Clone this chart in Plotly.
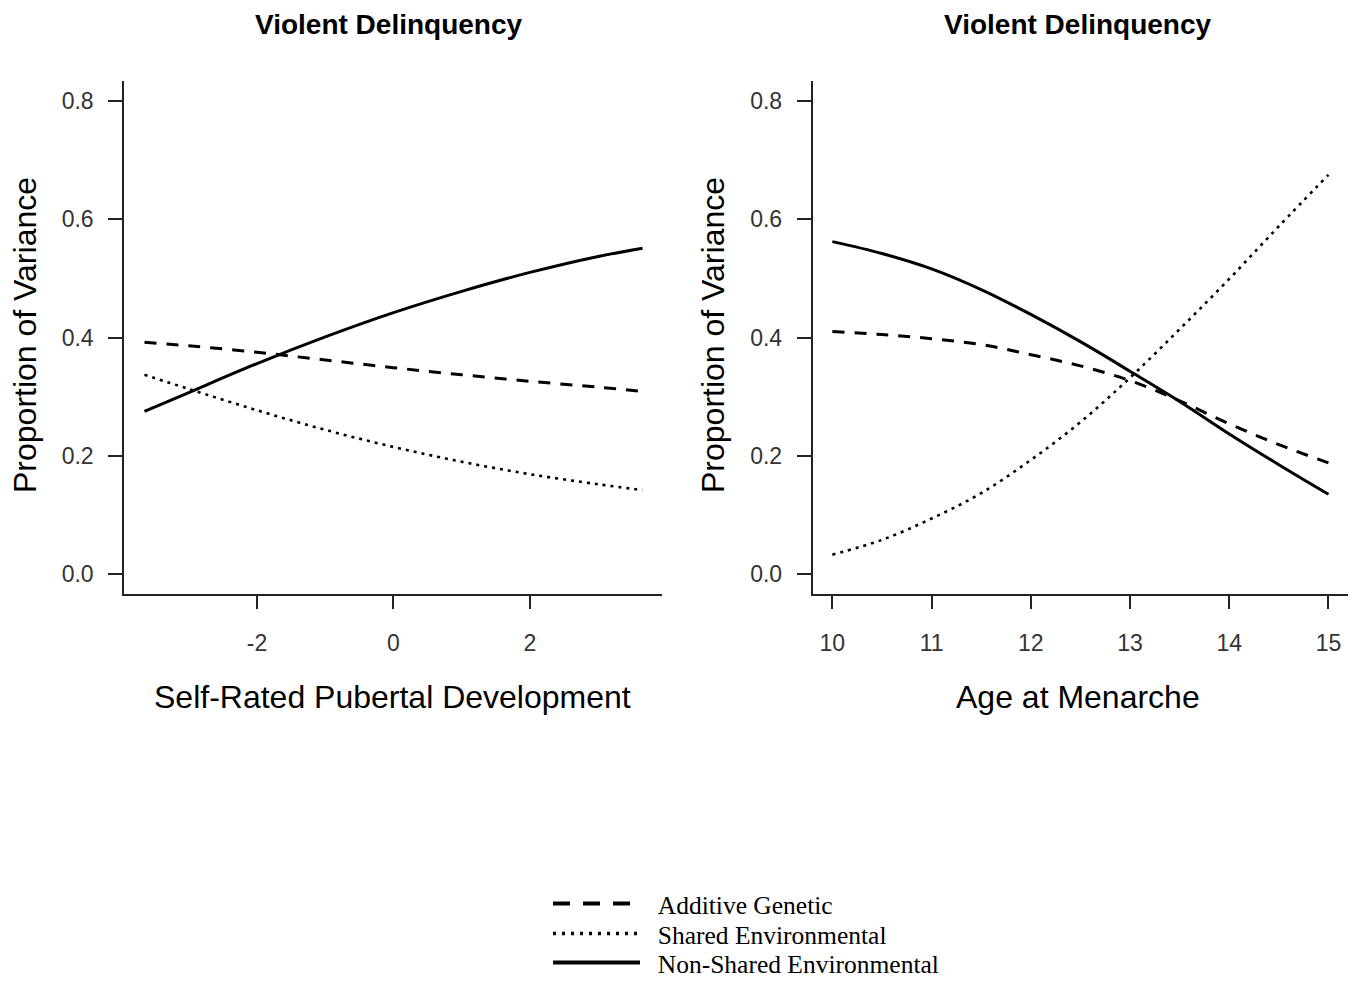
import plotly.graph_objects as go

# ---------------- data ----------------
pub_x = [-3.65, -3.0, -2.0, -1.0, 0.0, 1.0, 2.0, 3.0, 3.65]
pub_additive = [0.392, 0.386, 0.375, 0.362, 0.349, 0.337, 0.326, 0.316, 0.309]
pub_shared = [0.337, 0.313, 0.277, 0.244, 0.215, 0.190, 0.169, 0.152, 0.142]
pub_nonshared = [0.275, 0.307, 0.356, 0.401, 0.442, 0.478, 0.510, 0.537, 0.551]

men_x = [10, 10.5, 11, 11.5, 12, 12.5, 13, 13.5, 14, 14.5, 15]
men_additive = [0.410, 0.405, 0.398, 0.388, 0.371, 0.352, 0.327, 0.293, 0.254, 0.219, 0.188]
men_shared = [0.033, 0.058, 0.094, 0.137, 0.193, 0.257, 0.332, 0.414, 0.499, 0.588, 0.675]
men_nonshared = [0.562, 0.542, 0.516, 0.481, 0.439, 0.393, 0.343, 0.292, 0.237, 0.185, 0.135]

series_names = ["Additive Genetic", "Shared Environmental", "Non-Shared Environmental"]
panel_title = "Violent Delinquency"
y_title = "Proportion of Variance"
x_titles = ["Self-Rated Pubertal Development", "Age at Menarche"]
y_ticks = [0.0, 0.2, 0.4, 0.6, 0.8]
pub_ticks = [-2, 0, 2]
pub_ticktext = ["-2", "0", "2"]
men_ticks = [10, 11, 12, 13, 14, 15]

# ---------------- figure ----------------
OFF = 8  # page body margin
W, H = 1357 - OFF, 981 - OFF
px2fx = lambda p: (p - OFF) / W
py2fy = lambda p: (H - (p - OFF)) / H

styles = [
    dict(color="black", width=3, dash="12px,10px"),
    dict(color="black", width=2.6, dash="3px,5px"),
    dict(color="black", width=3, dash="solid"),
]
legend_styles = [
    dict(color="black", width=4, dash="17px,13px"),
    dict(color="black", width=3.5, dash="3px,6px"),
    dict(color="black", width=4, dash="solid"),
]
legend_ids = ["legend", "legend2", "legend3"]
legend_rows = [904, 934, 963]

fig = go.Figure()
left_series = [pub_additive, pub_shared, pub_nonshared]
right_series = [men_additive, men_shared, men_nonshared]
for i, (name, ys) in enumerate(zip(series_names, left_series)):
    fig.add_trace(go.Scatter(x=pub_x, y=ys, mode="lines", name=name,
                             line=dict(shape="spline", smoothing=1.0, **styles[i]),
                             xaxis="x", yaxis="y", showlegend=False))
for i, (name, ys) in enumerate(zip(series_names, right_series)):
    fig.add_trace(go.Scatter(x=men_x, y=ys, mode="lines", name=name,
                             line=dict(shape="spline", smoothing=1.0, **styles[i]),
                             xaxis="x2", yaxis="y2", showlegend=False))
# legend entries (key only, no data marks)
for i, name in enumerate(series_names):
    fig.add_trace(go.Scatter(x=[None], y=[None], mode="lines", name="\u00a0\u00a0" + name,
                             line=legend_styles[i], xaxis="x", yaxis="y",
                             showlegend=True, legend=legend_ids[i], hoverinfo="skip"))

ydom = [py2fy(593.7), py2fy(80.7)]
tickfont = dict(family="Liberation Sans, Arial, sans-serif", size=23, color="#333333")
axis_common = dict(showline=True, linecolor="#222222", linewidth=1.5, mirror=False,
                   ticks="outside", ticklen=14, tickwidth=1.5, tickcolor="#222222",
                   showgrid=False, zeroline=False, tickfont=tickfont)

legend_font = dict(family="Liberation Serif, Times New Roman, serif", size=25.5, color="black")
legend_layout = {}
for lid, row in zip(legend_ids, legend_rows):
    legend_layout[lid] = dict(x=px2fx(548), y=py2fy(row), xanchor="left", yanchor="middle",
                              font=legend_font, itemwidth=87, bgcolor="rgba(0,0,0,0)")

fig.update_layout(
    width=W, height=H,
    margin=dict(l=0, r=0, t=0, b=0, autoexpand=False),
    paper_bgcolor="white", plot_bgcolor="white",
    xaxis=dict(domain=[px2fx(124), px2fx(662.3)], range=[-3.95, 3.94], anchor="y",
               tickvals=pub_ticks, ticktext=pub_ticktext, ticklabelstandoff=14, **axis_common),
    yaxis=dict(domain=ydom, range=[-0.033, 0.834], anchor="x",
               tickvals=y_ticks, tickformat=".1f", ticklabelstandoff=10, **axis_common),
    xaxis2=dict(domain=[px2fx(812.5), px2fx(1348.3)], range=[9.8, 15.2], anchor="y2",
                tickvals=men_ticks, ticklabelstandoff=14, **axis_common),
    yaxis2=dict(domain=ydom, range=[-0.033, 0.834], anchor="x2",
                tickvals=y_ticks, tickformat=".1f", ticklabelstandoff=10, **axis_common),
    showlegend=True,
    **legend_layout,
)

title_font = dict(family="Liberation Sans, Arial, sans-serif", size=28, color="black")
label_font = dict(family="Liberation Sans, Arial, sans-serif", size=32, color="black")
ann = [
    dict(text="<b>%s</b>" % panel_title, x=px2fx(389), y=py2fy(24), font=title_font),
    dict(text="<b>%s</b>" % panel_title, x=px2fx(1078), y=py2fy(24), font=title_font),
    dict(text=x_titles[0], x=px2fx(392), y=py2fy(697), font=label_font),
    dict(text=x_titles[1], x=px2fx(1078), y=py2fy(697), font=label_font),
    dict(text=y_title, x=px2fx(25), y=py2fy(335), font=label_font, textangle=-90),
    dict(text=y_title, x=px2fx(713), y=py2fy(335), font=label_font, textangle=-90),
]
for a in ann:
    fig.add_annotation(xref="paper", yref="paper", showarrow=False,
                       xanchor="center", yanchor="middle", **a)

fig.write_html("out.html")
